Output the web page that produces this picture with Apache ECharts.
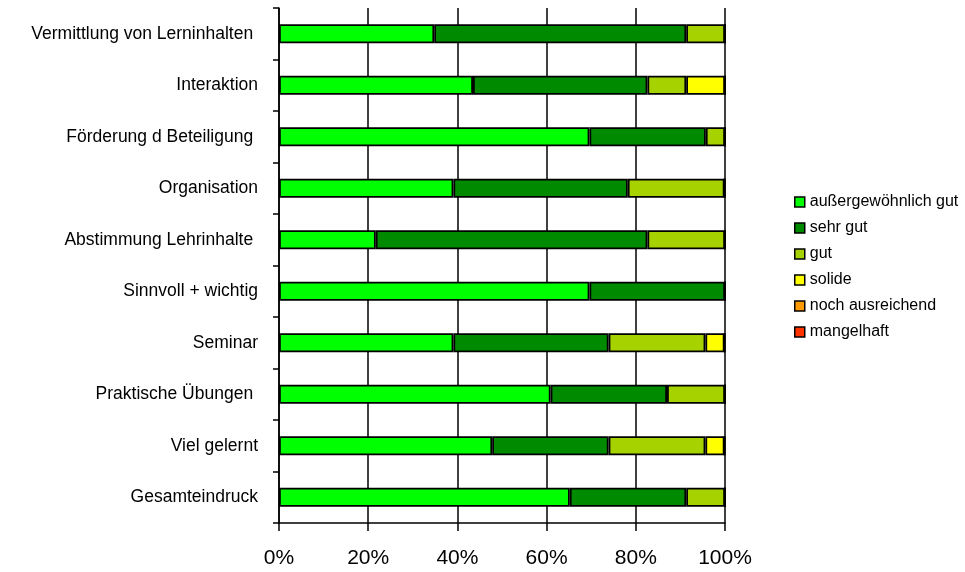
<!DOCTYPE html>
<html>
<head>
<meta charset="utf-8">
<script src="https://cdn.jsdelivr.net/npm/echarts@6/dist/echarts.min.js"></script>
<style>
html,body{margin:0;padding:0;background:#fff;}
#chart{width:965px;height:572px;}
</style>
</head>
<body>
<div id="chart"></div>
<script>
// Course evaluation: share of ratings per question (percent), listed top to bottom
const categories = [
  'Vermittlung von Lerninhalten ',
  'Interaktion',
  'Förderung d Beteiligung ',
  'Organisation',
  'Abstimmung Lehrinhalte ',
  'Sinnvoll + wichtig',
  'Seminar',
  'Praktische Übungen ',
  'Viel gelernt',
  'Gesamteindruck'
];
const ratingNames = ['außergewöhnlich gut', 'sehr gut', 'gut', 'solide', 'noch ausreichend', 'mangelhaft'];
const ausserg   = [34.8, 43.5, 69.6, 39.1, 21.7, 69.6, 39.1, 60.9, 47.8, 65.2];
const sehrGut   = [56.5, 39.1, 26.1, 39.1, 60.9, 30.4, 34.8, 26.1, 26.1, 26.1];
const gut       = [8.7, 8.7, 4.3, 21.7, 17.4, 0, 21.7, 13.0, 21.7, 8.7];
const solide    = [0, 8.7, 0, 0, 0, 0, 4.3, 0, 4.3, 0];
const nochAusr  = [0, 0, 0, 0, 0, 0, 0, 0, 0, 0];
const mangelhaft= [0, 0, 0, 0, 0, 0, 0, 0, 0, 0];
const xTicks = ['0%', '20%', '40%', '60%', '80%', '100%'];

const seriesData = [ausserg, sehrGut, gut, solide, nochAusr, mangelhaft];
const colors = ['#00FF00', '#008A00', '#A6D200', '#FFFF00', '#FF9900', '#FF3300'];

const chart = echarts.init(document.getElementById('chart'), null, {renderer: 'canvas'});
const font = 'Liberation Sans, Arial, sans-serif';

chart.setOption({
  animation: false,
  textStyle: {fontFamily: font},
  grid: {left: 279, right: 240, top: 8, bottom: 49, containLabel: false},
  legend: {
    orient: 'vertical',
    left: 789,
    top: 189,
    itemWidth: 10,
    itemHeight: 10,
    itemGap: 10,
    icon: 'rect',
    selectedMode: false,
    textStyle: {fontFamily: font, fontSize: 16, lineHeight: 16, color: '#000'},
    itemStyle: {borderColor: '#000', borderWidth: 1.5},
    data: ratingNames
  },
  xAxis: {
    type: 'value',
    min: 0,
    max: 100,
    interval: 20,
    axisLine: {show: true, lineStyle: {color: '#000', width: 1.5}},
    axisTick: {show: true, length: 8, lineStyle: {color: '#000', width: 1.5}},
    splitLine: {show: true, lineStyle: {color: '#000', width: 1.5}},
    axisLabel: {
      margin: 25,
      fontSize: 21,
      color: '#000',
      fontFamily: font,
      formatter: v => xTicks[Math.round(v / 20)]
    }
  },
  yAxis: {
    type: 'category',
    data: categories,
    inverse: true,
    axisLine: {show: true, lineStyle: {color: '#000', width: 1.5}},
    axisTick: {show: true, length: 6, lineStyle: {color: '#000', width: 1.5}},
    axisLabel: {margin: 21, fontSize: 17.5, color: '#000', fontFamily: font}
  },
  series: seriesData.map((d, i) => ({
    name: ratingNames[i],
    type: 'bar',
    stack: 'total',
    data: d,
    barWidth: 19,
    itemStyle: {color: colors[i], borderColor: '#000', borderWidth: 1.8},
    emphasis: {disabled: true}
  }))
});
</script>
</body>
</html>
